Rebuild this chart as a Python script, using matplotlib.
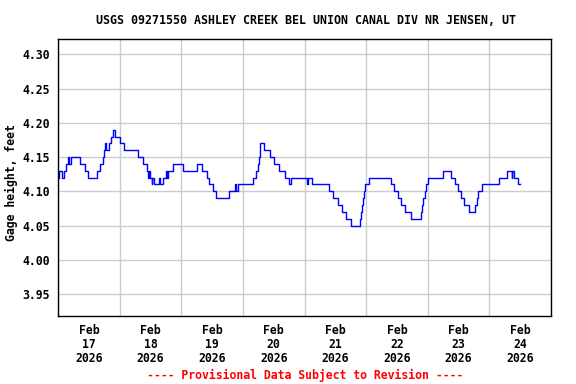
import numpy as np
import matplotlib
matplotlib.use("Agg")
import matplotlib.pyplot as plt
import matplotlib.dates as mdates

# gage height change points, hours after 2026-02-17 00:00
hours = [0.0, 0.25, 1.5, 2.25, 3.0, 4.0, 4.25, 5.0, 8.5, 10.5, 11.75, 15.25, 16.5,
         17.5, 18.0, 18.25, 18.5, 19.75, 20.5, 21.5, 22.25, 24.25, 25.75, 31.0,
         33.0, 34.5, 35.0, 35.25, 36.0, 36.5, 36.75, 37.25, 39.25, 39.75, 40.75,
         42.0, 42.5, 43.0, 44.75, 48.5, 54.0, 56.25, 58.0, 59.0, 60.25, 61.5,
         66.5, 68.75, 69.25, 70.0, 76.0, 77.0, 77.75, 78.25, 78.5, 78.75, 80.25,
         82.75, 84.25, 86.25, 88.25, 90.0, 90.75, 97.0, 97.25, 99.0, 105.5,
         107.25, 109.0, 110.5, 112.25, 114.25, 117.5, 118.0, 118.5, 118.75,
         119.0, 119.5, 121.0, 129.75, 131.0, 132.25, 133.75, 135.0, 137.5,
         141.5, 141.75, 142.25, 142.75, 143.5, 144.25, 149.75, 153.0, 154.5,
         155.75, 157.0, 158.0, 160.25, 162.5, 163.25, 163.75, 165.0, 171.75,
         175.0, 176.75, 177.0, 177.75, 179.25, 179.75]
gage_ft = [4.12, 4.13, 4.12, 4.13, 4.14, 4.15, 4.14, 4.15, 4.14, 4.13, 4.12, 4.13, 4.14,
           4.15, 4.16, 4.17, 4.16, 4.17, 4.18, 4.19, 4.18, 4.17, 4.16, 4.15,
           4.14, 4.13, 4.12, 4.13, 4.12, 4.11, 4.12, 4.11, 4.12, 4.11, 4.12,
           4.13, 4.12, 4.13, 4.14, 4.13, 4.14, 4.13, 4.12, 4.11, 4.10, 4.09,
           4.10, 4.11, 4.10, 4.11, 4.12, 4.13, 4.14, 4.15, 4.16, 4.17, 4.16,
           4.15, 4.14, 4.13, 4.12, 4.11, 4.12, 4.11, 4.12, 4.11, 4.10,
           4.09, 4.08, 4.07, 4.06, 4.05, 4.06, 4.07, 4.08, 4.09,
           4.10, 4.11, 4.12, 4.11, 4.10, 4.09, 4.08, 4.07, 4.06,
           4.07, 4.08, 4.09, 4.10, 4.11, 4.12, 4.13, 4.12, 4.11,
           4.10, 4.09, 4.08, 4.07, 4.08, 4.09, 4.10, 4.11, 4.12,
           4.13, 4.12, 4.13, 4.12, 4.11, 4.11]

title = "USGS 09271550 ASHLEY CREEK BEL UNION CANAL DIV NR JENSEN, UT"
ylabel = "Gage height, feet"
note = "---- Provisional Data Subject to Revision ----"
y_ticks = [3.95, 4.00, 4.05, 4.10, 4.15, 4.20, 4.25, 4.30]

start = np.datetime64("2026-02-17T00:00")
times = start + (np.array(hours) * 60).astype(int).astype("timedelta64[m]")

plt.rcParams["font.family"] = "DejaVu Sans Mono"
plt.rcParams["font.weight"] = "bold"

fig = plt.figure(figsize=(5.76, 3.84), dpi=100)
ax = fig.add_axes([58 / 576, 1 - 316 / 384, 493 / 576, (316 - 39.3) / 384])

ax.step(times, gage_ft, where="post", color="#0000ff", linewidth=1.0)

ax.set_xlim(start, np.datetime64("2026-02-25T00:00"))
ax.set_ylim(3.918, 4.322)

ax.set_yticks(y_ticks)
ax.yaxis.set_major_formatter(plt.FuncFormatter(lambda v, p: f"{v:.2f}"))
ax.xaxis.set_major_locator(mdates.HourLocator(byhour=12))
ax.xaxis.set_major_formatter(mdates.DateFormatter("%b\n%d\n%Y"))
ax.xaxis.set_minor_locator(mdates.DayLocator())

ax.grid(True, which="minor", axis="x", color="#cccccc", linewidth=1.0)
ax.grid(True, which="major", axis="y", color="#cccccc", linewidth=1.0)
ax.set_axisbelow(True)
ax.tick_params(axis="both", which="both", length=0, labelsize=8.3)
ax.tick_params(axis="y", pad=6)
ax.tick_params(axis="x", pad=6)
for lbl in ax.get_xticklabels():
    lbl.set_linespacing(1.1)
for sp in ax.spines.values():
    sp.set_linewidth(1.0)
    sp.set_color("black")

fig.text(305.5 / 576, 1 - 20 / 384, title, ha="center", va="center", fontsize=8.4)
fig.text(11 / 576, 1 - 183 / 384, ylabel, ha="center", va="center",
         rotation=90, fontsize=8.3)
fig.text(305.5 / 576, 1 - 375 / 384, note, ha="center", va="center",
         fontsize=8.3, color="#ff0000")

fig.savefig("out.png", dpi=100)
